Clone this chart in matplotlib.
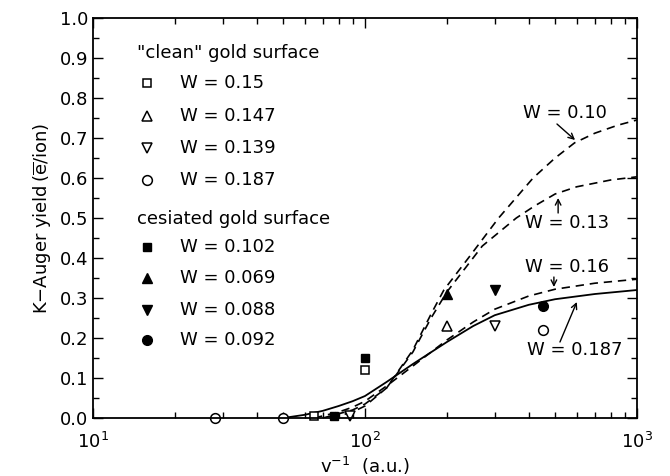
import numpy as np
import matplotlib
matplotlib.use("Agg")
import matplotlib.pyplot as plt
from matplotlib.ticker import MultipleLocator, LogLocator, NullFormatter

plt.rcParams['font.family'] = ['DejaVu Sans']
plt.rcParams['mathtext.fontset'] = 'dejavusans'

# theory curves (v^-1 in a.u., K-Auger yield)
x_w0187 = [50, 60, 70, 80, 90, 100, 120, 150, 200, 250, 300, 400, 500, 700, 1000]
y_w0187 = [0.0, 0.008, 0.018, 0.03, 0.042, 0.055, 0.09, 0.135, 0.19, 0.23, 0.257, 0.283, 0.297, 0.31, 0.32]

x_w016 = [65, 80, 90, 100, 120, 150, 200, 250, 300, 400, 500, 700, 1000]
y_w016 = [0.0, 0.015, 0.027, 0.042, 0.08, 0.13, 0.195, 0.24, 0.272, 0.305, 0.322, 0.337, 0.347]

x_w013 = [70, 90, 100, 120, 150, 175, 200, 270, 360, 420, 500, 600, 800, 1000]
y_w013 = [0.0, 0.02, 0.035, 0.075, 0.165, 0.25, 0.315, 0.43, 0.50, 0.53, 0.56, 0.578, 0.595, 0.603]

x_w010 = [75, 90, 100, 120, 150, 175, 195, 240, 310, 415, 500, 590, 700, 850, 1000]
y_w010 = [0.0, 0.015, 0.03, 0.075, 0.17, 0.26, 0.32, 0.40, 0.50, 0.60, 0.65, 0.688, 0.712, 0.732, 0.745]

# measured points, clean gold surface
clean_labels = ['W = 0.15', 'W = 0.147', 'W = 0.139', 'W = 0.187']
clean_markers = ['s', '^', 'v', 'o']
clean_x = [[65, 100], [200], [88, 300], [28, 50, 450]]
clean_y = [[0.004, 0.12], [0.23], [0.006, 0.23], [0.0, 0.0, 0.22]]

# measured points, cesiated gold surface
ces_labels = ['W = 0.102', 'W = 0.069', 'W = 0.088', 'W = 0.092']
ces_markers = ['s', '^', 'v', 'o']
ces_x = [[77, 100], [200], [300], [450]]
ces_y = [[0.004, 0.15], [0.31], [0.32], [0.28]]

fig = plt.figure(figsize=(6.7, 4.76), dpi=100)
ax = fig.add_axes([0.1388, 0.1218, 0.8119, 0.8404])

dash = (0, (5, 3.5))
ax.plot(x_w0187, y_w0187, color='black', lw=1.3)
ax.plot(x_w016, y_w016, color='black', lw=1.2, linestyle=dash)
ax.plot(x_w013, y_w013, color='black', lw=1.2, linestyle=dash)
ax.plot(x_w010, y_w010, color='black', lw=1.2, linestyle=dash)

msize = {'s': 6, '^': 7, 'v': 7, 'o': 7}
for xs, ys, m in zip(clean_x, clean_y, clean_markers):
    ax.plot(xs, ys, linestyle='none', marker=m, ms=msize[m], mfc='white', mec='black', mew=1.1, clip_on=False)
for xs, ys, m in zip(ces_x, ces_y, ces_markers):
    ax.plot(xs, ys, linestyle='none', marker=m, ms=msize[m], mfc='black', mec='black', clip_on=False)

ax.set_xscale('log')
ax.set_xlim(10, 1000)
ax.set_ylim(0, 1.0)
ax.yaxis.set_major_locator(MultipleLocator(0.1))
ax.yaxis.set_minor_locator(MultipleLocator(0.05))
ax.yaxis.set_major_formatter(matplotlib.ticker.FormatStrFormatter('%.1f'))
ax.xaxis.set_major_locator(LogLocator(base=10))
ax.xaxis.set_minor_locator(LogLocator(base=10, subs=np.arange(2, 10)))
ax.xaxis.set_minor_formatter(NullFormatter())
ax.tick_params(which='both', direction='in', top=True, right=True, labelsize=13, width=1.0)
ax.tick_params(which='major', length=7)
ax.tick_params(which='minor', length=4)
ax.tick_params(axis='x', which='major', pad=10)
for s in ax.spines.values():
    s.set_linewidth(1.3)

ax.set_xlabel(r'v$^{-1}$  (a.u.)', fontsize=13, labelpad=2)
ax.set_ylabel(r'K$-$Auger yield$\,(\overline{\mathrm{e}}/\mathrm{ion})$', fontsize=13, labelpad=4)

# legend written as text, in figure pixels
def px(xp, yp):
    return xp / 670, 1 - yp / 476

fig.text(*px(137, 53), '"clean" gold surface', fontsize=13, va='center')
rows_clean = [83, 116, 148, 180]
for yp, lab, m in zip(rows_clean, clean_labels, clean_markers):
    fig.lines.append(plt.Line2D([147 / 670], [1 - yp / 476], marker=m, ms=msize[m], mfc='white',
                                mec='black', mew=1.1, transform=fig.transFigure))
    fig.text(*px(180, yp), lab, fontsize=13, va='center')
fig.text(*px(137, 219), 'cesiated gold surface', fontsize=13, va='center')
rows_ces = [247, 278, 310, 340]
for yp, lab, m in zip(rows_ces, ces_labels, ces_markers):
    fig.lines.append(plt.Line2D([147 / 670], [1 - yp / 476], marker=m, ms=msize[m], mfc='black',
                                mec='black', transform=fig.transFigure))
    fig.text(*px(180, yp), lab, fontsize=13, va='center')

# curve annotations
arrow = dict(arrowstyle='->', color='black', lw=1.0, shrinkA=0, shrinkB=0)
ax.text(381, 0.7625, 'W = 0.10', fontsize=13, ha='left', va='center')
ax.annotate('', xy=(592, 0.695), xytext=(508, 0.735), arrowprops=arrow)
ax.text(386, 0.4875, 'W = 0.13', fontsize=13, ha='left', va='center')
ax.annotate('', xy=(513, 0.55), xytext=(513, 0.5125), arrowprops=arrow)
ax.text(386, 0.3775, 'W = 0.16', fontsize=13, ha='left', va='center')
ax.annotate('', xy=(495, 0.3275), xytext=(495, 0.3525), arrowprops=arrow)
ax.text(394, 0.17, 'W = 0.187', fontsize=13, ha='left', va='center')
ax.annotate('', xy=(601, 0.29), xytext=(521, 0.19), arrowprops=arrow)

fig.savefig('out.png', dpi=100)
